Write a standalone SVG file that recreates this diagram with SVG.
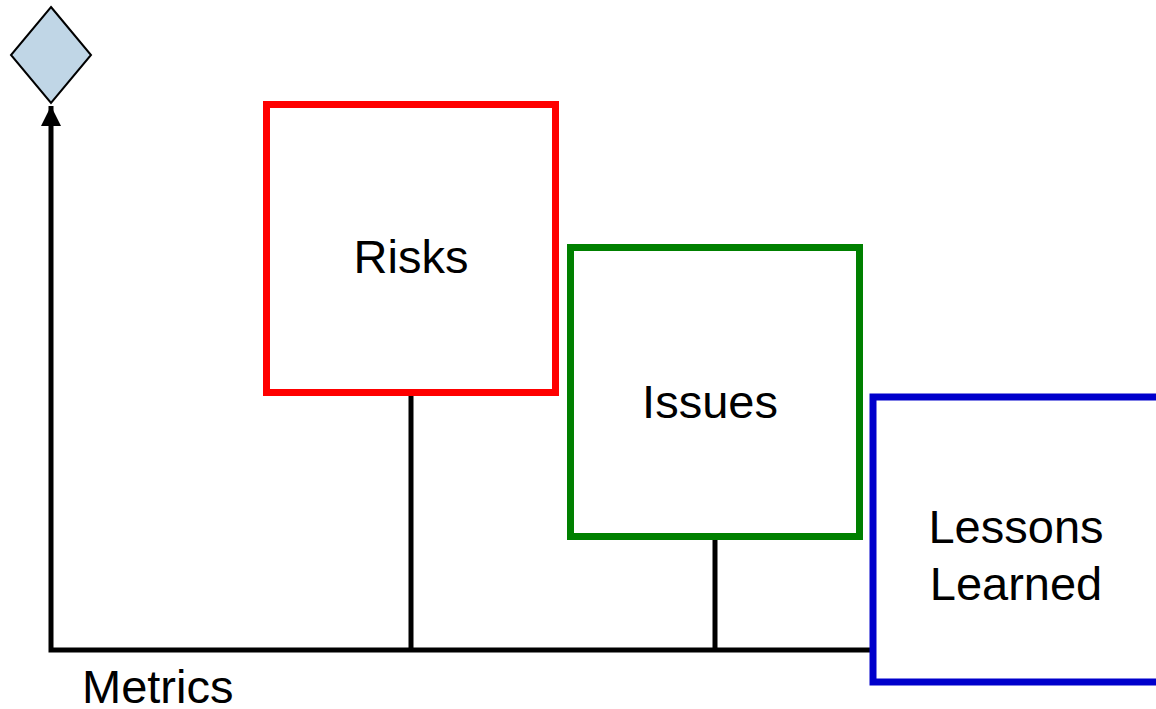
<svg xmlns="http://www.w3.org/2000/svg" width="1156" height="709" viewBox="0 0 1156 709">
<style>
  .lbl { font-family: "Liberation Sans", Arial, sans-serif; font-size: 47px; fill: #000; }
  .box { fill: #fff; stroke-width: 7; }
  .conn { stroke: #000; stroke-width: 5; fill: none; }
</style>
<defs>
  <marker id="arrow" viewBox="0 0 10 10" refX="10" refY="5" markerWidth="4" markerHeight="4" orient="auto" markerUnits="strokeWidth">
    <path d="M0,0 L10,5 L0,10 Z" fill="#000"/>
  </marker>
</defs>
<rect width="1156" height="709" fill="#fff"/>
<g id="connectors">
  <path class="conn" d="M411,393 V650"/>
  <path class="conn" d="M715,537 V650"/>
  <path class="conn" d="M870,650 H51 V106" marker-end="url(#arrow)"/>
</g>
<g id="milestone">
  <polygon points="51,7 91,55 51,103 11,55" fill="#c0d6e6" stroke="#000" stroke-width="2"/>
</g>
<g id="risks">
  <rect class="box" x="266.5" y="104.5" width="289" height="288" stroke="#ff0000"/>
  <text class="lbl" x="411" y="273" text-anchor="middle">Risks</text>
</g>
<g id="issues">
  <rect class="box" x="570.5" y="247.5" width="289" height="289" stroke="#008000"/>
  <text class="lbl" x="710" y="418" text-anchor="middle">Issues</text>
</g>
<g id="lessons">
  <rect class="box" x="873" y="397" width="290" height="285" stroke="#0000cc" stroke-width="8"/>
  <text class="lbl" x="1016" y="543" text-anchor="middle">Lessons</text>
  <text class="lbl" x="1016" y="600" text-anchor="middle">Learned</text>
</g>
<g id="metrics">
  <text class="lbl" x="82" y="703">Metrics</text>
</g>
</svg>
